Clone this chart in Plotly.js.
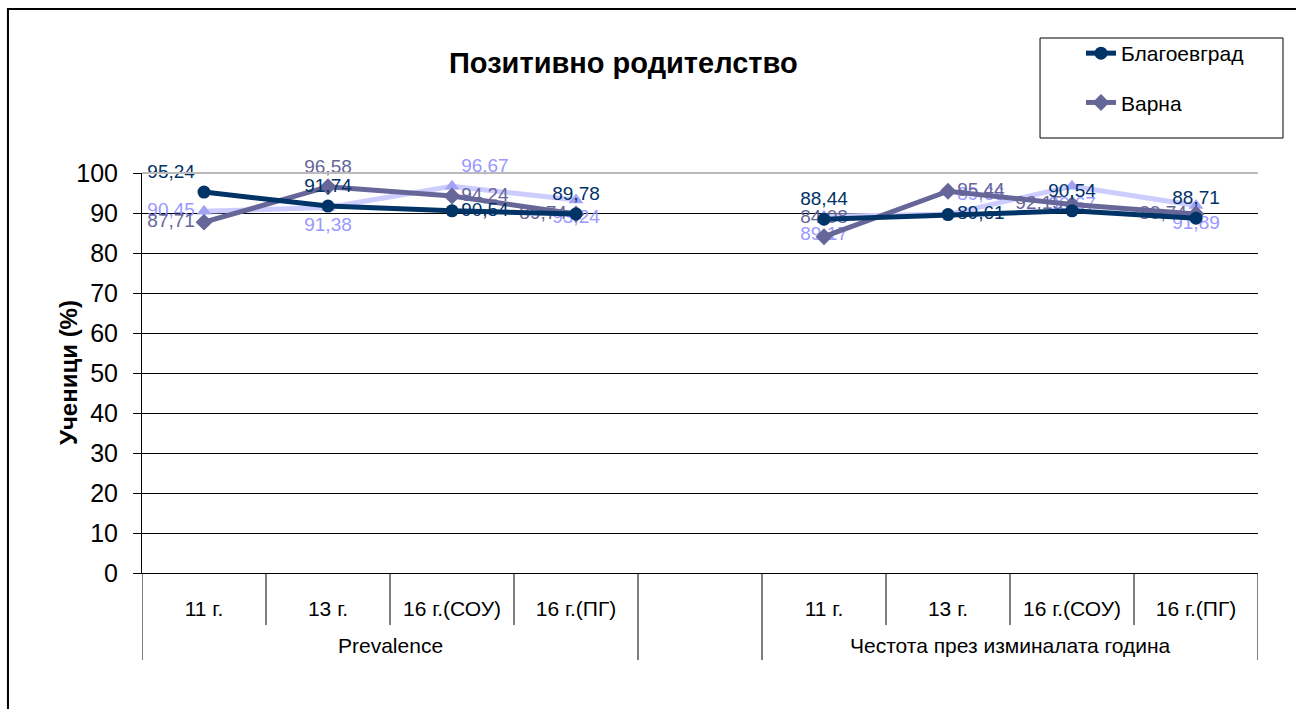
<!DOCTYPE html>
<html>
<head>
<meta charset="utf-8">
<script src="https://cdn.plot.ly/plotly-3.0.1.min.js"></script>
<style>
  body { margin: 0; background: #fff; }
  #myPlot { width: 1296px; height: 709px; }
</style>
</head>
<body>
<div id="myPlot"></div>
<script>
// Data
var groups = ["Prevalence", "Prevalence", "Prevalence", "Prevalence", "",
  "Честота през изминалата година", "Честота през изминалата година",
  "Честота през изминалата година", "Честота през изминалата година"]
var ages = ["11 г.", "13 г.", "16 г.(СОУ)", "16 г.(ПГ)", "",
  "11 г.", "13 г.", "16 г.(СОУ)", "16 г.(ПГ)"]

var blagoevgrad = [95.24, 91.74, 90.54, 89.78, null, 88.44, 89.61, 90.54, 88.71]
var varna = [87.71, 96.58, 94.24, 89.74, null, 84.08, 95.44, 92.15, 89.74]
var third = [90.45, 91.38, 96.67, 93.24, null, 89.17, 89.66, 96.67, 91.89]

// where each label sits next to its point
var posBlag = ["top left", "top center", "middle right", "top center", "top center",
  "top center", "middle right", "top center", "top center"]
var posVarna = ["middle left", "top center", "middle right", "middle left", "top center",
  "top center", "middle right", "middle left", "middle left"]
var posThird = ["middle left", "bottom center", "top right", "bottom center", "top center",
  "bottom center", "top right", "bottom center", "bottom center"]

var fontFam = 'Arial, "Liberation Sans", sans-serif'

// category slots 0..8
var xIdx = ages.map(function (a, i) { return i })

function labels(arr) {
  return arr.map(function (v) { return v == null ? "" : v.toFixed(2).replace(".", ",") })
}

function graphFunction() {
  var data = [
    {x: xIdx, y: third, mode: "lines+markers+text", name: "Серия 3",
      showlegend: false, cliponaxis: false,
      line: {color: "#CCCCFF", width: 5},
      marker: {symbol: "triangle-up", size: 13, color: "#A3A3F5"},
      text: labels(third), textposition: posThird,
      textfont: {color: "#9999FF", size: 19, family: fontFam}},

    {x: xIdx, y: varna, mode: "lines+markers+text", name: "Варна",
      legendgroup: "g2", legendrank: 2, cliponaxis: false,
      line: {color: "#666699", width: 5},
      marker: {symbol: "diamond", size: 13, color: "#666699"},
      text: labels(varna), textposition: posVarna,
      textfont: {color: "#666699", size: 19, family: fontFam}},

    {x: xIdx, y: blagoevgrad, mode: "lines+markers+text", name: "Благоевград",
      legendgroup: "g1", legendrank: 1, cliponaxis: false,
      line: {color: "#003366", width: 5},
      marker: {symbol: "circle", size: 13, color: "#003366"},
      text: labels(blagoevgrad), textposition: posBlag,
      textfont: {color: "#003366", size: 19, family: fontFam}}
  ]

  // category borders under the axis: short ones between ages, long ones between groups
  var shapes = []
  for (var i = 0; i <= ages.length; i++) {
    var edge = (i == 0 || i == ages.length || groups[i - 1] != groups[i])
    shapes.push({type: "line", xref: "x", yref: "paper", x0: i - 0.5, x1: i - 0.5,
      y0: 0, y1: edge ? -0.2175 : -0.13, line: {color: "#000", width: 1}})
  }
  // outer chart frame
  shapes.push({type: "rect", xref: "paper", yref: "paper", x0: -0.1201, x1: 1.06, y0: -0.4, y1: 1.41,
    line: {color: "#000", width: 2}})
  // plot area top border
  shapes.push({type: "line", xref: "paper", yref: "paper", x0: 0, x1: 1, y0: 1, y1: 1,
    line: {color: "#BBBBBB", width: 2}})
  // legend box
  shapes.push({type: "rect", xref: "paper", yref: "paper", x0: 0.8047, x1: 1.0224, y0: 1.0875, y1: 1.3375,
    line: {color: "#000", width: 1}})

  // group names centred under their ages, plus the y title
  var annotations = []
  var seen = {}
  groups.forEach(function (g, i) {
    if (g == "" || seen[g]) return
    seen[g] = true
    var idx = xIdx.filter(function (j) { return groups[j] == g })
    var mid = (idx[0] + idx[idx.length - 1]) / 2
    annotations.push({x: mid, xref: "x", y: -0.18, yref: "paper", text: g, showarrow: false,
      yanchor: "middle", font: {size: 21, family: fontFam, color: "#000"}})
  })
  annotations.push({x: -0.0663, xref: "paper", y: 0.5, yref: "paper", text: "<b>Ученици (%)</b>",
    textangle: -90, showarrow: false, xanchor: "center", yanchor: "middle",
    font: {size: 24, family: fontFam, color: "#000"}})

  var layout = {
    width: 1296, height: 709,
    margin: {l: 142, r: 38, t: 173, b: 136},
    paper_bgcolor: "#fff", plot_bgcolor: "#fff",
    font: {family: fontFam, color: "#000"},
    title: {text: "<b>Позитивно родителство</b>", font: {size: 29, family: fontFam},
      x: 0.481, xref: "container", y: 0.912, yref: "container", yanchor: "middle"},
    xaxis: {range: [-0.5, ages.length - 0.5], tickvals: xIdx, ticktext: ages,
      showline: true, linecolor: "#000", linewidth: 1, ticks: "",
      tickfont: {size: 21}, ticklabelstandoff: 17,
      showgrid: false, zeroline: false},
    yaxis: {range: [0, 100], dtick: 10, tick0: 0, showline: true, linecolor: "#000",
      ticks: "outside", ticklen: 8, tickcolor: "#000", tickfont: {size: 25},
      ticklabelstandoff: 10,
      gridcolor: "#000", gridwidth: 1, zeroline: false, automargin: false},
    legend: {x: 0.8414, xanchor: "left", y: 1.35, yanchor: "top",
      bgcolor: "rgba(0,0,0,0)", borderwidth: 0, font: {size: 21},
      tracegroupgap: 19, traceorder: "grouped"},
    shapes: shapes,
    annotations: annotations
  }

  Plotly.newPlot("myPlot", data, layout, {staticPlot: true})
}

graphFunction()
</script>
</body>
</html>
